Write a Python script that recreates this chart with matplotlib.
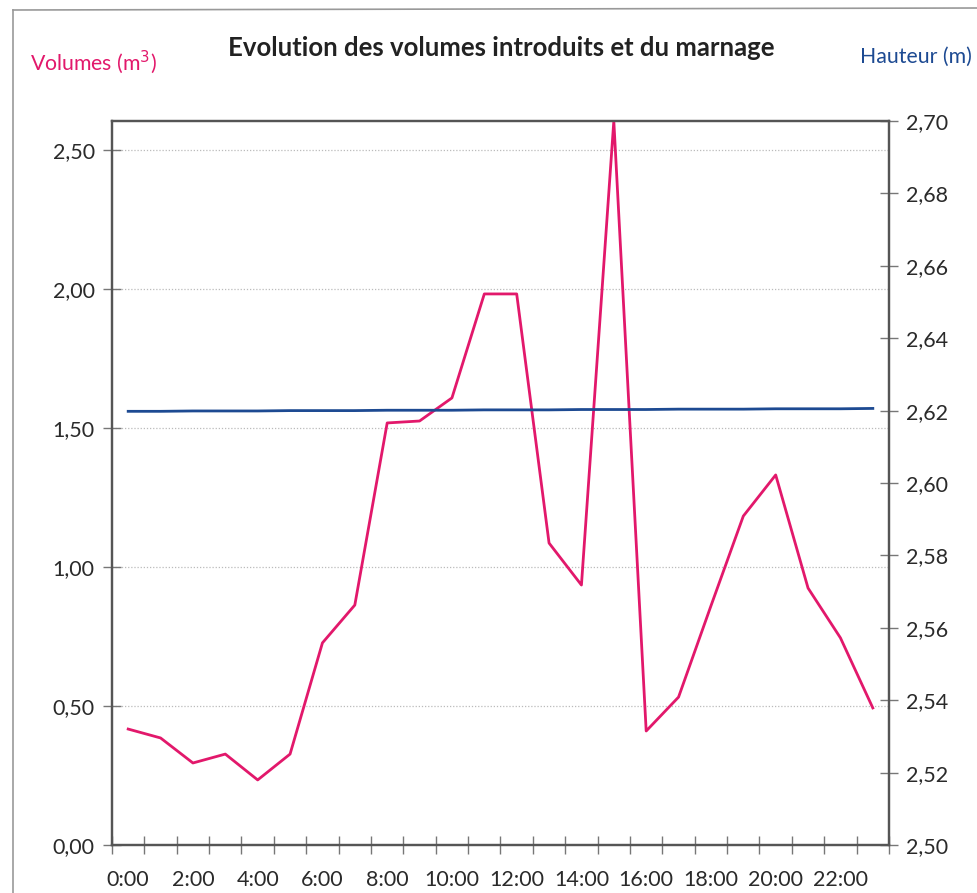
import matplotlib
matplotlib.use("Agg")
import matplotlib.pyplot as plt
from matplotlib.lines import Line2D
from matplotlib.ticker import FixedLocator, FuncFormatter

hours = list(range(24))
hour_labels = ["0:00", "2:00", "4:00", "6:00", "8:00", "10:00", "12:00",
               "14:00", "16:00", "18:00", "20:00", "22:00"]
volumes = [0.417, 0.385, 0.295, 0.327, 0.234, 0.327, 0.727, 0.863,
           1.518, 1.525, 1.608, 1.982, 1.982, 1.086, 0.935, 2.604,
           0.410, 0.532, 0.860, 1.183, 1.331, 0.924, 0.745, 0.493]
hauteur = [2.6198, 2.6198, 2.6199, 2.6199, 2.6199, 2.6200, 2.6200, 2.6200,
           2.6201, 2.6201, 2.6201, 2.6202, 2.6202, 2.6202, 2.6203, 2.6203,
           2.6203, 2.6204, 2.6204, 2.6204, 2.6205, 2.6205, 2.6205, 2.6206]
left_ticks = [0.0, 0.5, 1.0, 1.5, 2.0, 2.5]
right_ticks = [2.50, 2.52, 2.54, 2.56, 2.58, 2.60, 2.62, 2.64, 2.66, 2.68, 2.70]

PINK = "#e2186b"
BLUE = "#1d4a92"
AXC = "#555555"
TXT = "#2a2a2a"
FONT = "Lato"

plt.rcParams['font.family'] = [FONT, 'DejaVu Sans']

fig = plt.figure(figsize=(9.78, 8.93), dpi=100)
ax = fig.add_axes([112/978, 1-845/893, (889-112)/978, (845-121)/893])
ax2 = ax.twinx()

ax.set_xlim(-0.5, 23.5)
ax.set_ylim(0, 2.604)
ax2.set_ylim(2.50, 2.70)

ax.plot(hours, volumes, color=PINK, lw=2.0, zorder=3)
ax2.plot(hours, hauteur, color=BLUE, lw=2.0, zorder=3)

# grid
for v in left_ticks[1:]:
    ax.axhline(v, color="#bbbbbb", lw=0.9, ls=(0, (1, 1.5)), zorder=1)

for a in (ax, ax2):
    for s in a.spines.values():
        s.set_color(AXC)
        s.set_linewidth(1.6)

# x ticks
ax.xaxis.set_major_locator(FixedLocator(hours[::2]))
ax.set_xticklabels(hour_labels)
ax.xaxis.set_minor_locator(FixedLocator([h - 0.5 for h in hours] + [23.5]))
ax.tick_params(axis='x', which='major', length=0, pad=18, labelsize=15.5, labelcolor=TXT)
ax.tick_params(axis='x', which='minor', direction='inout', length=13, width=1.0, color="#777777")

# left y
ax.yaxis.set_major_locator(FixedLocator(left_ticks))
ax.yaxis.set_major_formatter(FuncFormatter(lambda v, p: f"{v:.2f}".replace(".", ",")))
ax.tick_params(axis='y', which='major', direction='inout', length=13, width=1.0,
               color="#777777", pad=6, labelsize=15.5, labelcolor=TXT)

# right y
ax2.yaxis.set_major_locator(FixedLocator(right_ticks))
ax2.yaxis.set_major_formatter(FuncFormatter(lambda v, p: f"{v:.2f}".replace(".", ",")))
ax2.tick_params(axis='y', which='major', direction='inout', length=13, width=1.0,
                color="#777777", pad=6, labelsize=15.5, labelcolor=TXT)

fig.text(501/978, 1-48/893, "Evolution des volumes introduits et du marnage",
         ha='center', va='center', fontsize=18.5, fontweight='bold', color="#222222")
fig.text(30/978, 1-62/893, "Volumes (m$^3$)", ha='left', va='center',
         fontsize=15.3, color=PINK)
fig.text(972/978, 1-57/893, "Hauteur (m)", ha='right', va='center',
         fontsize=15.3, color=BLUE)

# page frame
fig.add_artist(Line2D([13/978, 13/978], [0, 1-10/893], transform=fig.transFigure,
                      color="#999999", lw=1.2))
fig.add_artist(Line2D([13/978, 1], [1-10/893, 1-8/893], transform=fig.transFigure,
                      color="#999999", lw=1.2))

fig.savefig("out.png", dpi=100)
